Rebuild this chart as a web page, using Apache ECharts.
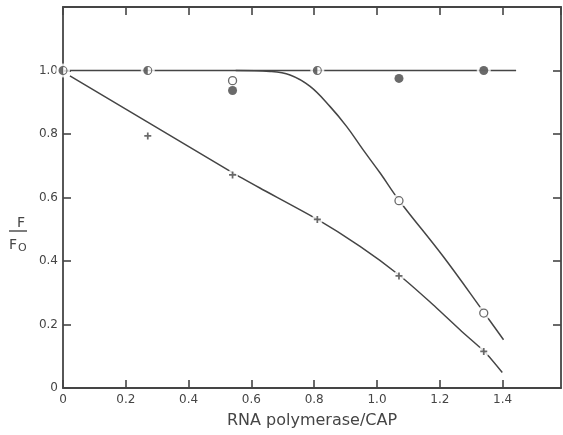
<!DOCTYPE html>
<html>
<head>
<meta charset="utf-8">
<script src="https://cdn.jsdelivr.net/npm/echarts@6/dist/echarts.min.js"></script>
<style>
  html, body { margin: 0; padding: 0; background: #fff; }
  #chart { width: 563px; height: 435px; }
</style>
</head>
<body>
<div id="chart"></div>
<script>
// --- data ---
var halfPts   = [[0, 1.0], [0.27, 1.0], [0.81, 1.0]];
var openPts   = [[0.54, 0.968], [1.07, 0.59], [1.34, 0.236]];
var filledPts = [[0.54, 0.937], [1.07, 0.975], [1.34, 1.0]];
var crossPts  = [[0.27, 0.794], [0.54, 0.671], [0.81, 0.531], [1.07, 0.353], [1.34, 0.115]];

// fitted curves as drawn
var flatLine = [[0, 1.0], [1.443, 1.0]];
var circleCurve = [[0.55, 1.0], [0.659, 0.997], [0.723, 0.986], [0.787, 0.95], [0.85, 0.887],
  [0.903, 0.824], [0.956, 0.75], [1.01, 0.677], [1.071, 0.59], [1.211, 0.414], [1.342, 0.236], [1.403, 0.152]];
var crossCurve = [[0.022, 0.983], [0.537, 0.68], [0.627, 0.63], [0.805, 0.534], [0.946, 0.446],
  [1.07, 0.356], [1.17, 0.27], [1.27, 0.178], [1.345, 0.112], [1.399, 0.049]];

var xLabels = ['0', '0.2', '0.4', '0.6', '0.8', '1.0', '1.2', '1.4'];
var yLabels = ['0', '0.2', '0.4', '0.6', '0.8', '1.0'];

var ink = '#454545';
var font = 'DejaVu Sans';

var halfSymbol = 'path://M10 0A10 10 0 1 1 10 20A10 10 0 1 1 10 0Z' +
  'M10 2.4A7.6 7.6 0 1 0 10 17.6A7.6 7.6 0 1 0 10 2.4Z' +
  'M10 2.4A7.6 7.6 0 0 0 10 17.6Z';
var crossSymbol = 'path://M3 0H5V3H8V5H5V8H3V5H0V3H3Z';

function labelFrom(list) {
  return function (v) {
    var i = Math.round(v / 0.2);
    if (Math.abs(v - i * 0.2) > 1e-6) return '';
    return list[i] || '';
  };
}

var axisLine = { onZero: false, lineStyle: { color: ink, width: 1.8 } };
var tickIn = { inside: true, length: 8, lineStyle: { color: ink, width: 1.6 } };

var chart = echarts.init(document.getElementById('chart'), null, { renderer: 'canvas' });
chart.setOption({
  animation: false,
  backgroundColor: '#fff',
  grid: { left: 63, right: 2, top: 7, bottom: 47 },
  xAxis: [
    { type: 'value', min: 0, max: 1.586, interval: 0.2, position: 'bottom',
      axisLine: axisLine, axisTick: tickIn, splitLine: { show: false },
      axisLabel: { color: ink, fontFamily: font, fontSize: 12, margin: 6, showMaxLabel: false, formatter: labelFrom(xLabels) },
      name: 'RNA polymerase/CAP', nameLocation: 'middle', nameGap: 25,
      nameTextStyle: { color: ink, fontFamily: font, fontSize: 16 } },
    { type: 'value', min: 0, max: 1.586, interval: 0.2, position: 'top',
      axisLine: axisLine, axisTick: tickIn, splitLine: { show: false }, axisLabel: { show: false } }
  ],
  yAxis: [
    { type: 'value', min: 0, max: 1.2, interval: 0.2, position: 'left',
      axisLine: axisLine, axisTick: tickIn, splitLine: { show: false },
      axisLabel: { color: ink, fontFamily: font, fontSize: 12, margin: 5, formatter: labelFrom(yLabels) } },
    { type: 'value', min: 0, max: 1.2, interval: 0.2, position: 'right',
      axisLine: axisLine, axisTick: tickIn, splitLine: { show: false }, axisLabel: { show: false } }
  ],
  graphic: [
    { type: 'text', left: 17, top: 216, style: { text: 'F', fill: ink, font: '14px ' + font } },
    { type: 'line', shape: { x1: 9, y1: 231, x2: 27, y2: 231 }, style: { stroke: ink, lineWidth: 1.4 } },
    { type: 'text', left: 9, top: 238, style: { text: 'F', fill: ink, font: '14px ' + font } },
    { type: 'text', left: 18, top: 243, style: { text: 'O', fill: ink, font: '11px ' + font } }
  ],
  series: [
    { type: 'line', data: flatLine, showSymbol: false, z: 2, lineStyle: { color: ink, width: 1.5 } },
    { type: 'line', data: circleCurve, smooth: 0.4, showSymbol: false, z: 2, lineStyle: { color: ink, width: 1.5 } },
    { type: 'line', data: crossCurve, smooth: 0.2, showSymbol: false, z: 2, lineStyle: { color: ink, width: 1.5 } },
    // white halos that break the lines around the markers
    { type: 'scatter', data: halfPts.concat(openPts, filledPts), symbol: 'circle', symbolSize: 14, z: 3,
      itemStyle: { color: '#fff' }, silent: true },
    { type: 'scatter', data: crossPts, symbol: 'circle', symbolSize: 11, z: 3,
      itemStyle: { color: '#fff' }, silent: true },
    { type: 'scatter', data: halfPts, symbol: halfSymbol, symbolSize: 9, z: 4, itemStyle: { color: ink } },
    { type: 'scatter', data: openPts, symbol: 'circle', symbolSize: 8, z: 4,
      itemStyle: { color: '#fff', borderColor: ink, borderWidth: 1.3 } },
    { type: 'scatter', data: filledPts, symbol: 'circle', symbolSize: 9, z: 4, itemStyle: { color: ink } },
    { type: 'scatter', data: crossPts, symbol: crossSymbol, symbolSize: 7, z: 4, itemStyle: { color: ink } }
  ]
});
</script>
</body>
</html>
